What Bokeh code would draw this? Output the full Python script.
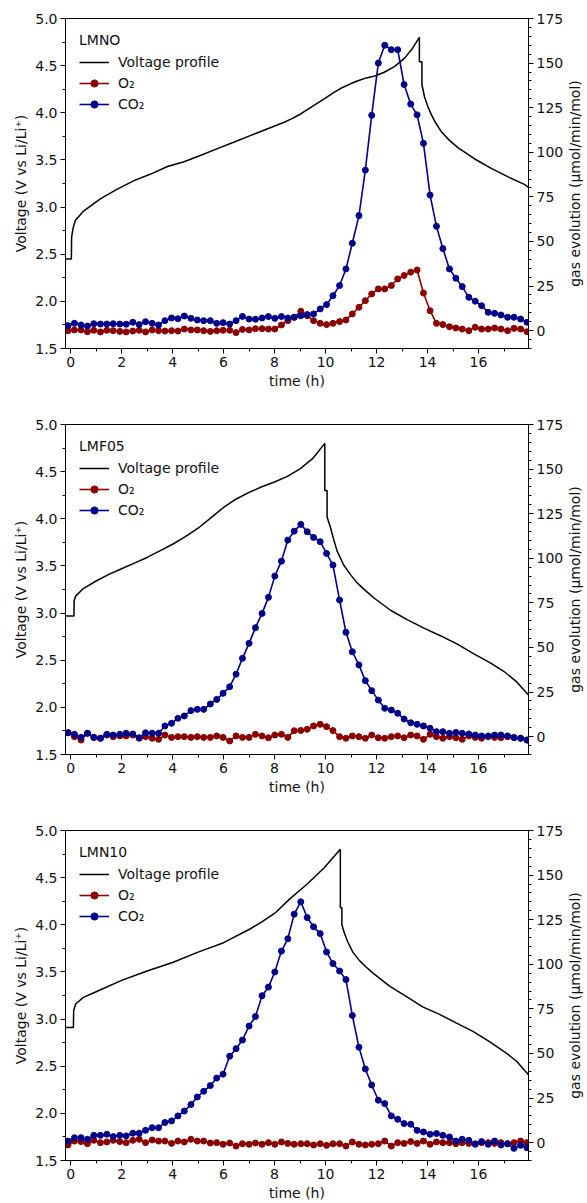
import math

from bokeh.embed import file_html
from bokeh.layouts import column, row
from bokeh.models import (Label, Legend, LegendItem, LinearAxis, PrintfTickFormatter,
                          Range1d, SingleIntervalTicker)
from bokeh.plotting import figure
from bokeh.resources import INLINE

# Sampling times of the mass-spectrometer gas data (h)
time_h = [-0.10, 0.15, 0.41, 0.66, 0.91, 1.17, 1.42, 1.67, 1.93, 2.18,
          2.44, 2.69, 2.94, 3.20, 3.45, 3.70, 3.96, 4.21, 4.46, 4.72,
          4.97, 5.22, 5.48, 5.73, 5.98, 6.24, 6.49, 6.74, 7.00, 7.25,
          7.51, 7.76, 8.01, 8.27, 8.52, 8.77, 9.03, 9.28, 9.53, 9.79,
          10.04, 10.29, 10.55, 10.80, 11.05, 11.31, 11.56, 11.81, 12.07, 12.32,
          12.58, 12.83, 13.08, 13.34, 13.59, 13.84, 14.10, 14.35, 14.60, 14.86,
          15.11, 15.36, 15.62, 15.87, 16.12, 16.38, 16.63, 16.88, 17.14, 17.39,
          17.65, 17.90]

# ---- LMNO ----
lmno_co2 = [2.8, 4.1, 3.2, 2.6, 3.9, 3.7, 3.7, 3.9, 3.7, 3.6,
            4.7, 3.4, 5.0, 4.1, 3.2, 5.6, 7.1, 6.7, 8.2, 6.9,
            6.0, 5.6, 5.6, 4.1, 4.5, 3.7, 5.6, 8.0, 6.5, 6.4,
            7.1, 7.9, 6.9, 7.9, 7.1, 7.5, 8.4, 9.0, 9.4, 12.2,
            14.6, 19.6, 25.3, 34.6, 49.0, 64.5, 90.0, 120.7, 150.0, 160.0,
            157.5, 157.5, 138.0, 127.0, 121.0, 105.0, 76.0, 58.5, 46.0, 34.6,
            29.4, 24.7, 18.7, 16.5, 14.0, 10.3, 9.7, 8.8, 7.5, 7.5,
            6.5, 4.7]
lmno_o2 = [0.0, 0.4, 0.4, -0.6, 0.2, -0.7, 0.2, 0.0, -0.4, -0.7,
           -0.2, 0.2, -0.7, 0.4, 0.0, -0.2, 0.0, -0.2, 0.9, 0.4,
           0.4, 0.0, -0.4, 0.0, 0.2, 0.2, -1.1, 0.7, 0.4, 1.1,
           1.1, 0.9, 0.9, 3.2, 5.6, 7.5, 10.9, 8.4, 5.6, 4.1,
           3.4, 4.1, 5.1, 6.0, 9.4, 13.1, 16.8, 20.6, 23.4, 23.4,
           25.3, 29.0, 30.9, 32.8, 34.0, 21.1, 11.2, 4.1, 3.4, 2.2,
           1.5, 0.9, 0.0, 1.9, 0.9, 0.9, 1.5, 0.9, 0.0, 1.3,
           0.9, -0.6]
lmno_volt_t = [-0.2, 0.03, 0.04, 0.1, 0.19, 0.52, 1.18, 1.83, 2.49, 3.14,
               3.8, 4.45, 5.11, 5.76, 6.42, 7.07, 7.73, 8.38, 8.7, 9.04,
               9.5, 9.96, 10.3, 10.6, 11.0, 11.27, 11.6, 11.93, 12.3, 12.7,
               13.1, 13.4, 13.68, 13.68, 13.78, 13.78, 13.88, 14.02, 14.15, 14.28,
               14.54, 14.85, 15.19, 15.85, 16.5, 17.16, 17.8, 17.96]
lmno_volt_v = [2.45, 2.45, 2.68, 2.78, 2.86, 2.96, 3.09, 3.19, 3.28, 3.35,
               3.43, 3.48, 3.55, 3.62, 3.69, 3.76, 3.83, 3.90, 3.94, 3.99,
               4.07, 4.15, 4.21, 4.26, 4.31, 4.34, 4.37, 4.39, 4.43, 4.49,
               4.58, 4.68, 4.80, 4.54, 4.54, 4.30, 4.17, 4.06, 3.98, 3.91,
               3.80, 3.71, 3.63, 3.51, 3.41, 3.32, 3.24, 3.21]

# ---- LMF05 ----
lmf05_co2 = [2.2, 1.3, -0.4, 1.9, -0.4, -0.9, 1.3, 0.9, 1.3, 1.9,
             1.5, -0.6, 2.2, 1.9, 1.9, 6.0, 7.5, 10.3, 11.6, 14.6,
             15.3, 15.3, 18.3, 20.9, 24.3, 28.0, 35.0, 43.9, 52.3, 61.1,
             69.1, 78.1, 90.0, 98.4, 110.2, 115.2, 119.0, 114.9, 111.7, 109.3,
             102.7, 96.2, 76.6, 58.5, 47.6, 40.2, 31.4, 25.8, 20.5, 15.9,
             14.9, 13.1, 9.9, 7.8, 6.9, 6.0, 4.7, 2.8, 2.8, 1.9,
             2.4, 1.9, 1.5, 0.9, 0.4, 0.4, 0.9, 0.9, 0.4, -0.4,
             -0.9, -1.9]
lmf05_o2 = [2.2, 0.0, -1.9, 1.9, -0.4, -0.9, 0.9, 0.0, 0.4, 0.4,
            0.9, -0.9, 0.0, -0.9, -1.5, 0.9, -0.4, 0.0, 0.0, -0.4,
            0.0, -0.4, -0.4, 0.4, -0.4, -2.4, 0.4, -0.4, -0.4, 1.3,
            0.4, -0.6, 0.9, 1.3, -0.4, 3.3, 3.5, 4.1, 6.0, 6.9,
            5.6, 3.4, 0.0, -0.9, 0.4, 0.0, -0.9, 0.9, -0.6, -0.9,
            0.0, 0.4, -0.6, 0.9, 0.4, -1.5, 1.3, 0.0, -0.9, 0.0,
            -0.6, -1.5, 0.4, -0.4, -0.9, 0.0, -0.4, -0.6, 0.0, -0.6,
            -0.9, -1.9]
lmf05_volt_t = [-0.2, 0.13, 0.14, 0.2, 0.5, 1.0, 1.5, 2.0, 2.5, 3.0,
                3.5, 4.0, 4.5, 5.0, 5.5, 6.0, 6.5, 7.0, 7.5, 8.0,
                8.5, 9.0, 9.5, 9.97, 9.97, 10.06, 10.06, 10.19, 10.32, 10.45,
                10.71, 11.0, 11.24, 11.6, 11.9, 12.55, 13.2, 13.86, 14.5, 15.17,
                15.8, 16.48, 17.0, 17.5, 17.96]
lmf05_volt_v = [2.97, 2.97, 3.13, 3.18, 3.26, 3.34, 3.41, 3.47, 3.53, 3.59,
                3.66, 3.73, 3.81, 3.90, 4.01, 4.12, 4.21, 4.28, 4.34, 4.39,
                4.45, 4.53, 4.64, 4.80, 4.30, 4.30, 4.02, 3.91, 3.78, 3.66,
                3.51, 3.40, 3.32, 3.23, 3.16, 3.03, 2.93, 2.84, 2.76, 2.67,
                2.57, 2.47, 2.38, 2.27, 2.13]

# ---- LMN10 ----
lmn10_co2 = [0.9, 2.8, 2.8, 1.9, 4.1, 4.1, 4.7, 3.4, 4.1, 3.8,
             5.3, 5.3, 6.9, 8.4, 8.4, 11.3, 12.2, 15.0, 17.7, 21.4,
             25.6, 28.8, 32.0, 36.2, 38.4, 48.5, 52.7, 57.5, 65.4, 70.7,
             82.4, 87.2, 95.7, 107.4, 114.3, 128.1, 135.0, 126.2, 121.0, 117.2,
             106.9, 100.4, 96.2, 91.4, 71.3, 53.5, 41.3, 32.3, 23.8, 21.9,
             15.0, 13.1, 10.7, 10.3, 6.9, 6.0, 4.7, 5.1, 4.1, 3.2,
             0.9, 1.9, 1.3, -0.9, 0.6, -0.9, 0.9, -1.3, -0.6, -3.2,
             -1.5, -2.8]
lmn10_o2 = [-1.3, 0.9, 0.6, -0.6, 1.3, 0.0, 0.4, 1.3, 0.6, 0.0,
            1.3, 1.9, 0.0, 1.5, 0.9, 0.9, -0.4, 0.9, 0.4, 1.9,
            0.9, 0.9, -0.2, 0.0, -0.9, -0.2, -1.9, -0.6, -0.9, -0.2,
            -0.9, 0.0, -0.9, 0.4, -0.4, -0.9, -0.6, -0.6, -1.3, -0.6,
            -1.5, -0.6, -0.6, -1.9, 0.4, -0.9, -1.3, -0.9, -0.6, 0.9,
            -1.9, 0.0, -0.4, 0.6, -0.4, 0.9, -0.9, 0.4, 0.0, 0.0,
            -0.6, 0.0, -0.4, -0.6, 0.0, 0.0, -0.4, 0.0, -0.6, 0.0,
            0.9, 0.0]
lmn10_volt_t = [-0.2, 0.11, 0.12, 0.2, 0.5, 1.0, 2.0, 3.0, 4.0, 5.0,
                6.0, 7.0, 7.5, 8.0, 8.62, 9.27, 9.93, 10.58, 10.58, 10.64,
                10.64, 10.74, 10.87, 11.07, 11.33, 11.6, 11.85, 12.51, 13.16, 13.81,
                14.47, 15.12, 15.78, 16.43, 17.09, 17.5, 17.96]
lmn10_volt_v = [2.91, 2.91, 3.09, 3.16, 3.23, 3.29, 3.41, 3.51, 3.60, 3.71,
                3.81, 3.95, 4.03, 4.12, 4.28, 4.43, 4.60, 4.80, 4.18, 4.18,
                4.00, 3.91, 3.82, 3.71, 3.62, 3.55, 3.49, 3.35, 3.24, 3.13,
                3.05, 2.96, 2.87, 2.76, 2.64, 2.55, 2.41]

FONT = "DejaVu Sans"
FS = "14px"
RED = "#8b0000"
BLUE = "#00008b"
TEXT = "#111111"
GAS_LABEL = "gas evolution (\u03bcmol/min/mol)"


def style_axis(ax, label):
    ax.axis_label = label
    ax.axis_label_text_font = FONT
    ax.axis_label_text_font_size = FS
    ax.axis_label_text_font_style = "normal"
    ax.axis_label_text_color = TEXT
    ax.axis_label_standoff = 3
    ax.major_label_text_font = FONT
    ax.major_label_text_font_size = FS
    ax.major_label_text_color = TEXT
    ax.major_label_standoff = 3
    ax.axis_line_color = "black"
    ax.major_tick_line_color = "black"
    ax.minor_tick_line_color = "black"
    ax.major_tick_in = 0
    ax.major_tick_out = 5
    ax.minor_tick_in = 0
    ax.minor_tick_out = 3


def make_panel(name, co2, o2, volt_t, volt_v, bottom):
    p = figure(frame_width=463, frame_height=330,
               x_range=Range1d(-0.2, 17.96), y_range=Range1d(1.5, 5.0),
               output_backend="svg", toolbar_location=None,
               min_border_left=65, min_border_right=35,
               min_border_top=18, min_border_bottom=bottom)
    p.extra_y_ranges = {"gas": Range1d(-10, 175)}
    p.xgrid.visible = False
    p.ygrid.visible = False
    p.outline_line_color = "black"
    p.outline_line_width = 1
    p.background_fill_color = "white"
    p.border_fill_color = "white"

    p.xaxis.ticker = SingleIntervalTicker(interval=2, num_minor_ticks=2)
    style_axis(p.xaxis[0], "time (h)")
    p.yaxis.ticker = SingleIntervalTicker(interval=0.5, num_minor_ticks=2)
    p.yaxis.formatter = PrintfTickFormatter(format="%.1f")
    style_axis(p.yaxis[0], "Voltage (V vs Li/Li\u207a)")

    gas_axis = LinearAxis(y_range_name="gas",
                          ticker=SingleIntervalTicker(interval=25, num_minor_ticks=5))
    style_axis(gas_axis, "")
    p.add_layout(gas_axis, "right")

    rv = p.line(volt_t, volt_v, line_color="black", line_width=1.5)
    ro_l = p.line(time_h, o2, line_color=RED, line_width=1.6, y_range_name="gas")
    ro_m = p.scatter(time_h, o2, marker="circle", size=6, fill_color=RED,
                     line_color=RED, y_range_name="gas")
    rc_l = p.line(time_h, co2, line_color=BLUE, line_width=1.6, y_range_name="gas")
    rc_m = p.scatter(time_h, co2, marker="circle", size=6, fill_color=BLUE,
                     line_color=BLUE, y_range_name="gas")

    legend = Legend(items=[
        LegendItem(label="Voltage profile", renderers=[rv]),
        LegendItem(label="O\u2082", renderers=[ro_l, ro_m]),
        LegendItem(label="CO\u2082", renderers=[rc_l, rc_m]),
    ], location="top_left", title=name)
    legend.border_line_alpha = 0
    legend.background_fill_alpha = 0
    legend.margin = 4
    legend.padding = 10
    legend.spacing = 3
    legend.glyph_width = 30
    legend.glyph_height = 18
    legend.label_height = 18
    legend.label_standoff = 9
    legend.label_text_font = FONT
    legend.label_text_font_size = FS
    legend.label_text_color = TEXT
    legend.title_text_font = FONT
    legend.title_text_font_size = FS
    legend.title_text_font_style = "normal"
    legend.title_text_color = TEXT
    legend.title_standoff = 5
    p.add_layout(legend)

    # narrow strip to the right carrying the gas-axis title, read bottom to top
    strip = figure(frame_width=24, frame_height=330,
                   x_range=Range1d(0, 1), y_range=Range1d(0, 1),
                   output_backend="svg", toolbar_location=None,
                   x_axis_location=None, y_axis_location=None,
                   min_border_left=0, min_border_right=0,
                   min_border_top=18, min_border_bottom=bottom)
    strip.xgrid.visible = False
    strip.ygrid.visible = False
    strip.outline_line_color = None
    strip.add_layout(Label(x=8, y=165, x_units="screen", y_units="screen",
                           text=GAS_LABEL, angle=math.pi / 2,
                           text_align="center", text_baseline="middle",
                           text_font=FONT, text_font_size=FS, text_color=TEXT))
    return row(p, strip, spacing=0)


r1 = make_panel("LMNO", lmno_co2, lmno_o2, lmno_volt_t, lmno_volt_v, 58)
r2 = make_panel("LMF05", lmf05_co2, lmf05_o2, lmf05_volt_t, lmf05_volt_v, 58)
r3 = make_panel("LMN10", lmn10_co2, lmn10_o2, lmn10_volt_t, lmn10_volt_v, 42)

page = column(r1, r2, r3, spacing=0)
open("out.html", "w").write(file_html(page, INLINE))
